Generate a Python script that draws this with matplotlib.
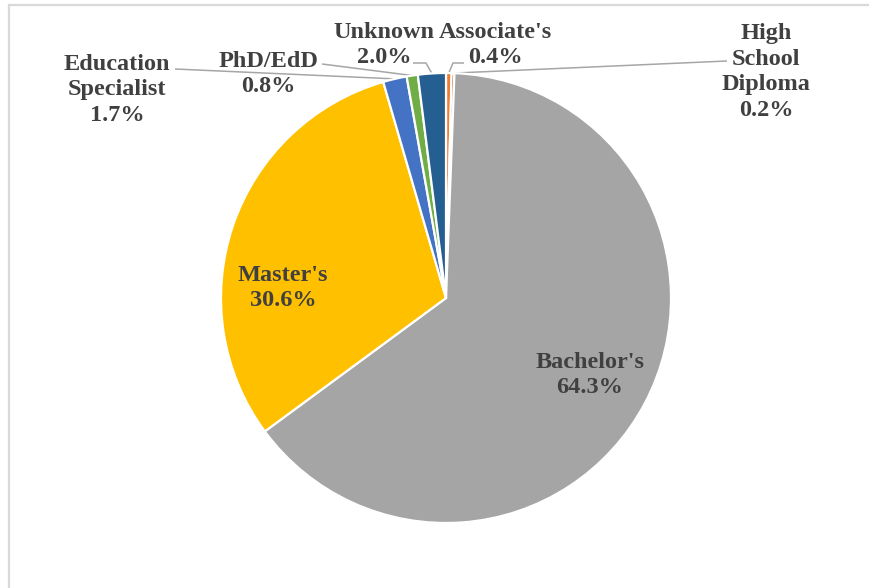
import numpy as np
import matplotlib
matplotlib.use("Agg")
import matplotlib.pyplot as plt
from matplotlib.lines import Line2D

# Degree breakdown (percent), clockwise from 12 o'clock
degrees = ["Associate's", "High\nSchool\nDiploma", "Bachelor's", "Master's",
           "Education\nSpecialist", "PhD/EdD", "Unknown"]
shares = [0.4, 0.2, 64.3, 30.6, 1.7, 0.8, 2.0]
colors = ['#ED7D31', '#9E480E', '#A5A5A5', '#FFC000', '#4472C4', '#70AD47', '#255E91']

W, H = 870, 588
fig = plt.figure(figsize=(W / 100, H / 100), dpi=100)
ax = fig.add_axes([0, 0, 1, 1])

cx, cy, R = 446, H - 298, 225
wedges, _ = ax.pie(shares, colors=colors, startangle=90, counterclock=False,
                   center=(cx, cy), radius=R, frame=True,
                   wedgeprops=dict(edgecolor='white', linewidth=1.6))
ax.set_xlim(0, W)
ax.set_ylim(0, H)
ax.axis('off')

font = dict(family='Liberation Serif', fontweight='bold', fontsize=17.5,
            color='#404040', ha='center', va='center', linespacing=1.3)


def y_(py):
    return H - py


def edge_point(w):
    mid = np.deg2rad((w.theta1 + w.theta2) / 2)
    return cx + R * np.cos(mid), cy + R * np.sin(mid)


# label text centres (pixels, image coords) and leader paths
label_pos = {
    "Bachelor's": (590, 375),
    "Master's": (283, 288),
    "Education\nSpecialist": (117, 90),
    "PhD/EdD": (268, 74),
    "Unknown": (384, 45),
    "Associate's": (495, 45),
    "High\nSchool\nDiploma": (766, 72),
}
leader_start = {
    "Education\nSpecialist": [(175, 69)],
    "PhD/EdD": [(322, 64)],
    "Unknown": [(413, 63), (426, 63)],
    "Associate's": [(464, 63), (453, 63)],
    "High\nSchool\nDiploma": [(727, 61)],
}

for w, name, val in zip(wedges, degrees, shares):
    x, y = label_pos[name]
    ax.text(x, y_(y), f"{name}\n{val:.1f}%", **font)
    if name in leader_start:
        ex, ey = edge_point(w)
        pts = [(px, y_(py)) for px, py in leader_start[name]] + [(ex, ey)]
        xs, ys = zip(*pts)
        ax.plot(xs, ys, color='#A6A6A6', lw=1.1, solid_capstyle='butt', zorder=0.5)

# chart-area border (only top and left visible)
fig.add_artist(Line2D([9 / W, 1], [1 - 5 / H, 1 - 5 / H], color='#D9D9D9', lw=1.6,
                      transform=fig.transFigure))
fig.add_artist(Line2D([9 / W, 9 / W], [0, 1 - 5 / H], color='#D9D9D9', lw=1.6,
                      transform=fig.transFigure))

fig.savefig('out.png', dpi=100, facecolor='white')
